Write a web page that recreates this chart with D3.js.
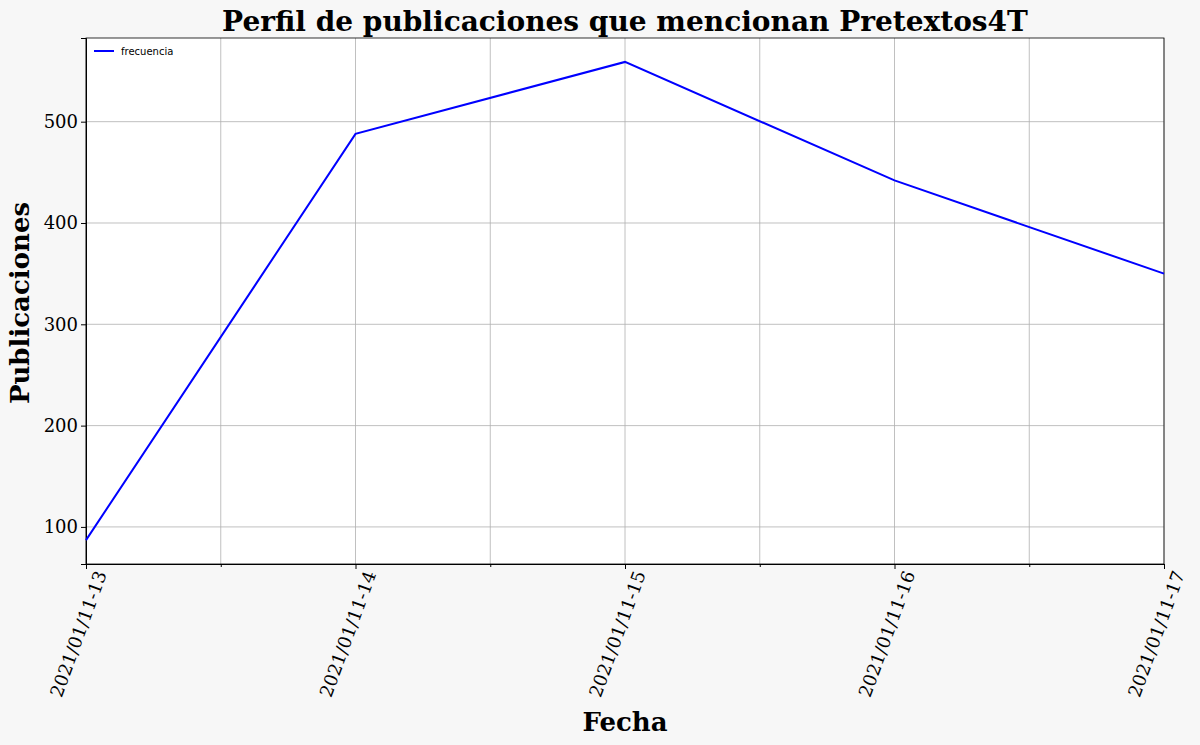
<!DOCTYPE html>
<html><head><meta charset="utf-8">
<script src="https://cdn.jsdelivr.net/npm/d3@7"></script>
<style>body{margin:0;background:#f7f7f7}</style>
</head><body>
<svg id="c" width="1200" height="745"></svg>
<script>
const dates = ["2021/01/11-13","2021/01/11-14","2021/01/11-15","2021/01/11-16","2021/01/11-17"];
const frecuencia = [87, 488, 559, 442, 350];
const yTicks = [100, 200, 300, 400, 500];
const minorTicks = [0.5, 1.5, 2.5, 3.5];

const svg = d3.select("#c");
const L=86, R=1164, T=38, B=564;
const serif = "'DejaVu Serif', 'Liberation Serif', serif";
svg.append("rect").attr("width",1200).attr("height",745).attr("fill","#f7f7f7");
svg.append("rect").attr("x",L).attr("y",T).attr("width",R-L).attr("height",B-T).attr("fill","#fff");

const x = d3.scaleLinear().domain([0, dates.length-1]).range([L,R]);
const y = d3.scaleLinear().domain([63.4, 582.6]).range([B,T]);

const g = svg.append("g");
[...d3.range(dates.length), ...minorTicks].forEach(i=>{
  g.append("line").attr("x1",x(i)).attr("x2",x(i)).attr("y1",T).attr("y2",B).attr("stroke","#b0b0b0").attr("stroke-width",0.8);
});
yTicks.forEach(v=>{
  g.append("line").attr("x1",L).attr("x2",R).attr("y1",y(v)).attr("y2",y(v)).attr("stroke","#b0b0b0").attr("stroke-width",0.8);
});

const xa = svg.append("g").attr("transform",`translate(0,${B})`)
  .call(d3.axisBottom(x).tickValues(d3.range(dates.length)).tickFormat(i=>dates[i]).tickSize(5));
svg.append("g").attr("transform",`translate(0,${B})`)
  .call(d3.axisBottom(x).tickValues(minorTicks).tickFormat("").tickSize(3)).select(".domain").remove();
xa.selectAll("text").attr("font-family",serif).attr("font-size",18).attr("fill","#000")
  .attr("text-anchor","end").attr("dx",0).attr("dy",0)
  .attr("transform","translate(13,7) rotate(-70)");
const ya = svg.append("g").attr("transform",`translate(${L},0)`)
  .call(d3.axisLeft(y).tickValues(yTicks).tickSize(5));
ya.selectAll("text").attr("font-family",serif).attr("font-size",18).attr("fill","#000");
svg.append("rect").attr("x",L).attr("y",T).attr("width",R-L).attr("height",B-T).attr("fill","none").attr("stroke","#000").attr("stroke-width",0.8);

svg.append("path").datum(frecuencia)
  .attr("d", d3.line().x((d,i)=>x(i)).y(d=>y(d)))
  .attr("fill","none").attr("stroke","#0000ff").attr("stroke-width",2);

svg.append("line").attr("x1",94).attr("x2",114).attr("y1",51).attr("y2",51).attr("stroke","#0000ff").attr("stroke-width",2);
svg.append("text").attr("x",121).attr("y",55).text("frecuencia").attr("font-family","'DejaVu Sans', sans-serif").attr("font-size",10);

svg.append("text").attr("x",625).attr("y",31).attr("text-anchor","middle").attr("font-family",serif)
  .attr("font-weight","bold").attr("font-size",28).text("Perfil de publicaciones que mencionan Pretextos4T");
svg.append("text").attr("x",625).attr("y",731).attr("text-anchor","middle").attr("font-family",serif)
  .attr("font-weight","bold").attr("font-size",26).text("Fecha");
svg.append("text").attr("transform","translate(29,303) rotate(-90)").attr("text-anchor","middle").attr("font-family",serif)
  .attr("font-weight","bold").attr("font-size",26).text("Publicaciones");
</script>
</body></html>
